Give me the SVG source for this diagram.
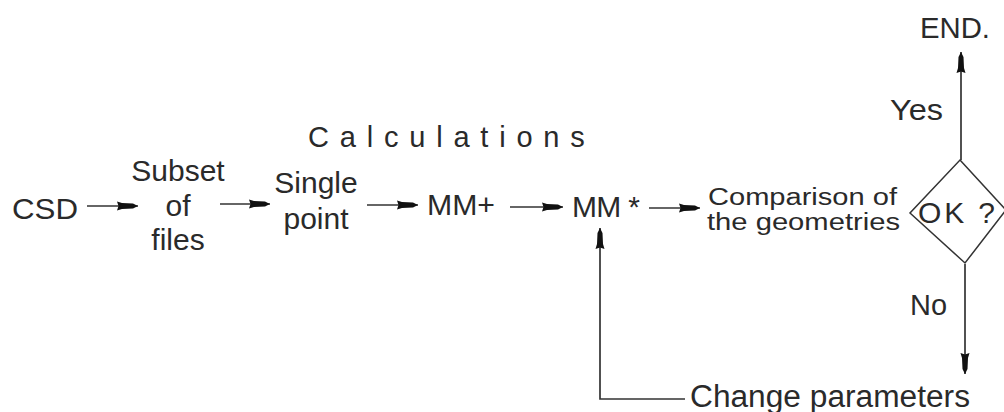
<svg xmlns="http://www.w3.org/2000/svg" width="1004" height="412" viewBox="0 0 1004 412">
<style>
  text { font-family: "Liberation Sans", Arial, sans-serif; fill: #2a2a2a; }
  .t31 { font-size: 30px; }
  .conn { stroke: #333; stroke-width: 1.7; fill: none; }
  .shape { stroke: #333; stroke-width: 1.5; fill: #fff; }
</style>
<defs>
  <marker id="arr" markerUnits="userSpaceOnUse" viewBox="-22 -5 23 10" markerWidth="23" markerHeight="10" refX="0" refY="0" orient="auto">
    <path d="M0,0 L-5,-2.5 L-16,-3 L-21,-4.5 L-19.5,0 L-21,4.5 L-16,3 L-5,2.5 Z" fill="#111"/>
  </marker>
</defs>
<rect width="1004" height="412" fill="#fff"/>
<g id="title">
  <text x="308" y="147" font-size="29" letter-spacing="10.8">Calculations</text>
</g>
<g id="node-csd">
  <text class="t31" x="12" y="219" textLength="66" lengthAdjust="spacingAndGlyphs">CSD</text>
</g>
<g id="node-subset">
  <text class="t31" x="178" y="181" text-anchor="middle">Subset</text>
  <text class="t31" x="178" y="216" text-anchor="middle">of</text>
  <text class="t31" x="178" y="250" text-anchor="middle">files</text>
</g>
<g id="node-single">
  <text class="t31" x="316" y="193" text-anchor="middle">Single</text>
  <text class="t31" x="316" y="229" text-anchor="middle">point</text>
</g>
<g id="node-mmplus">
  <text class="t31" x="427" y="215" textLength="68" lengthAdjust="spacingAndGlyphs">MM+</text>
</g>
<g id="node-mmstar">
  <text class="t31" x="572" y="217" textLength="68" lengthAdjust="spacing">MM *</text>
</g>
<g id="node-comparison">
  <text x="708" y="205" font-size="23" textLength="189" lengthAdjust="spacingAndGlyphs">Comparison of</text>
  <text x="707" y="230" font-size="23" textLength="193" lengthAdjust="spacingAndGlyphs">the geometries</text>
</g>
<g id="node-ok">
  <polygon class="shape" points="960,160 1006,210 965,263 910,213"/>
  <text class="t31" x="918" y="223" textLength="77" lengthAdjust="spacing">OK ?</text>
</g>
<g id="node-end">
  <text x="920" y="38" font-size="30" textLength="70" lengthAdjust="spacingAndGlyphs">END.</text>
</g>
<g id="node-change">
  <text x="690" y="407" font-size="31" textLength="280" lengthAdjust="spacingAndGlyphs">Change parameters</text>
</g>
<g id="connectors">
  <line class="conn" x1="87" y1="206" x2="138" y2="206" marker-end="url(#arr)"/>
  <line class="conn" x1="220" y1="204" x2="270" y2="204" marker-end="url(#arr)"/>
  <line class="conn" x1="367" y1="205" x2="418" y2="205" marker-end="url(#arr)"/>
  <line class="conn" x1="510" y1="207" x2="563" y2="207" marker-end="url(#arr)"/>
  <line class="conn" x1="649" y1="208" x2="700" y2="208" marker-end="url(#arr)"/>
  <polyline class="conn" points="685,399 600,399 600,228" marker-end="url(#arr)"/>
  <line class="conn" x1="961" y1="160" x2="961" y2="52" marker-end="url(#arr)"/>
  <line class="conn" x1="965" y1="264" x2="965" y2="374" marker-end="url(#arr)"/>
  <text class="t31" x="890" y="120" textLength="53" lengthAdjust="spacingAndGlyphs">Yes</text>
  <text x="910" y="315" font-size="30" textLength="37" lengthAdjust="spacingAndGlyphs">No</text>
</g>
</svg>
